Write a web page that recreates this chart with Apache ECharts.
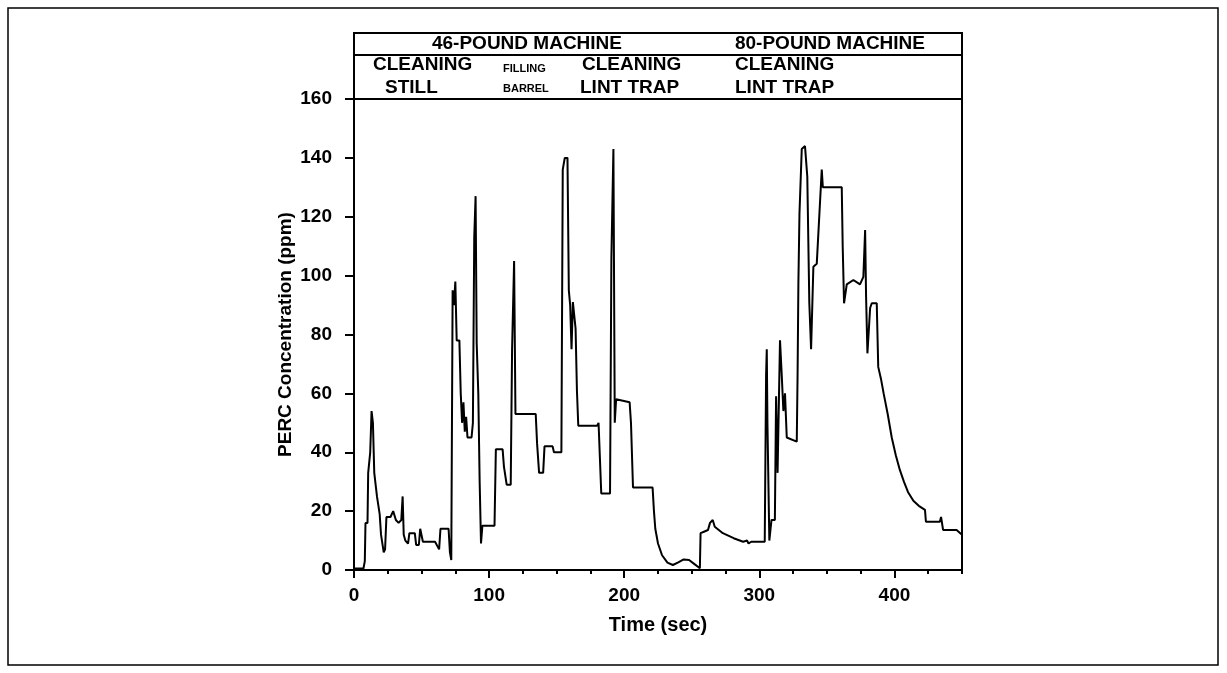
<!DOCTYPE html>
<html lang="en">
<head>
    <meta charset="UTF-8">
    <title>PERC Concentration</title>
    <script src="https://cdn.jsdelivr.net/npm/echarts@6/dist/echarts.min.js"></script>
    <style>
        html, body { margin: 0; padding: 0; background: #fff; }
        #main { width: 1227px; height: 673px; }
    </style>
</head>
<body>
<div id="main"></div>
<script type="text/javascript">
    // time (sec) and PERC concentration (ppm)
    var timeSec = [0, 7, 8, 8.5, 10, 10.5, 12, 13, 14, 15, 17, 19, 20, 22, 23, 24, 27, 29, 30, 31, 33, 35, 36, 36.8, 38, 40, 41, 45, 46, 48, 49, 50, 51, 60, 61, 63, 64, 70, 71, 72,
        73, 74, 75, 76, 78, 79, 80, 81, 82, 83, 84, 87, 88, 89, 90, 90.8, 92, 93, 94, 95, 104, 105, 110, 111, 113, 116, 117, 118.5, 119.5, 134.5,
        135.5, 137, 140, 141, 147, 148, 153.5, 154.5, 156, 158, 159, 160, 161, 162, 164, 165, 166, 180, 181, 182, 183, 189.5, 190.5, 192, 193, 194,
        204, 205, 206.5, 221, 222, 223, 225, 228, 232, 236, 240, 244, 248, 252, 256, 256.5, 259, 262, 263.5, 265.5, 267, 273, 281, 288, 291, 292,
        294, 304, 305, 305.5, 306, 307.4, 309, 311.5, 312.4, 313.5, 314.5, 315.3, 316.5, 317.8, 319, 320.3, 327.7, 328.3, 328.9, 329.7, 331.4, 333.8,
        335.5, 337, 338.3, 340, 342.5, 345, 346.2, 347, 361, 361.7, 362.7, 364.7, 369.6, 374.5, 377, 378.3, 379, 380, 382, 383.2, 386.9, 388, 390,
        392, 395, 398, 401, 404, 407, 410, 414, 418, 422.6, 423.3, 433.6, 434.5, 436, 446, 450];
    var ppm = [0.5, 0.5, 3, 16, 16, 33, 40, 54, 50, 33, 25, 19, 12, 6, 7, 18, 18, 20, 20, 17, 16, 17, 25, 12, 10, 9, 12.5, 12.5, 8.5, 8.5, 14, 14, 9.6, 9.6, 9, 7, 14, 14, 6, 3.4,
        95, 90, 98, 78, 78, 60, 50, 57, 47, 52, 45, 45, 50, 113, 127, 77, 60, 30, 9, 15, 15, 41, 41, 35, 29, 29, 75, 105, 53, 53,
        43, 33, 33, 42, 42, 40, 40, 136, 140, 140, 95, 90, 75, 91, 82, 61, 49, 49, 50, 50, 26, 26, 106, 143, 50, 58,
        57, 50, 28, 28, 20, 14, 9, 5, 2.5, 1.7, 2.6, 3.6, 3.4, 2, 0.6, 12.5, 13, 13.6, 16, 17, 14.7, 12.5, 10.8, 9.6, 10, 9,
        9.6, 9.6, 66, 75, 50, 10, 17, 17, 59, 33, 33, 78, 67, 54, 60, 45, 43.6, 66, 97, 121, 143, 144,
        133.6, 90.6, 75, 103, 104, 125.7, 136, 130, 130, 110, 90.6, 97, 98.5, 97, 99.6, 115.5, 93, 73.6, 89, 90.6, 90.6, 69, 65,
        60, 53, 45, 39, 34, 30, 26.5, 23.5, 21.8, 20.4, 16.4, 16.4, 18, 13.6, 13.6, 12];

    var xTicks = [0, 100, 200, 300, 400];
    var yTicks = [0, 20, 40, 60, 80, 100, 120, 140, 160];

    var series1 = [];
    for (var i = 0; i < timeSec.length; i++) {
        series1.push([timeSec[i], ppm[i]]);
    }

    var fontBold = '"Liberation Sans", Arial, sans-serif';
    var headFont = 'bold 19px ' + fontBold;
    var smallFont = 'bold 11px ' + fontBold;

    // header box texts (the rows above the plot)
    function txt(s, x, y, font, align) {
        return {
            type: 'text', x: x, y: y, z: 10,
            style: { text: s, font: font, fill: '#000', align: align || 'left', verticalAlign: 'middle' }
        };
    }

    var myChart = echarts.init(document.getElementById('main'));
    var option = {
        backgroundColor: '#fff',
        animation: false,
        grid: { left: 354, right: 265, top: 99, bottom: 103 },
        xAxis: [{
            type: 'value',
            min: 0, max: 450, interval: 100,
            name: 'Time (sec)',
            nameLocation: 'middle',
            nameGap: 45,
            nameTextStyle: { fontFamily: fontBold, fontWeight: 'bold', fontSize: 20, color: '#000' },
            axisLine: { show: true, lineStyle: { color: '#000', width: 2 } },
            axisTick: { show: true, length: 8, lineStyle: { color: '#000', width: 2 } },
            axisLabel: {
                margin: 16, showMaxLabel: false, color: '#000',
                fontFamily: fontBold, fontWeight: 'bold', fontSize: 19,
                formatter: function (v) { return xTicks.indexOf(v) >= 0 ? String(v) : ''; }
            },
            splitLine: { show: false }
        }, {
            // short ticks every 25 sec
            type: 'value', position: 'bottom',
            min: 0, max: 450, interval: 25,
            axisLine: { show: false },
            axisTick: { show: true, length: 4, lineStyle: { color: '#000', width: 2 } },
            axisLabel: { show: false },
            splitLine: { show: false }
        }],
        yAxis: {
            type: 'value',
            min: 0, max: 160, interval: 20,
            name: 'PERC Concentration (ppm)',
            nameLocation: 'middle',
            nameGap: 59,
            nameTextStyle: { fontFamily: fontBold, fontWeight: 'bold', fontSize: 19, color: '#000' },
            axisLine: { show: true, lineStyle: { color: '#000', width: 2 } },
            axisTick: { show: true, length: 9, lineStyle: { color: '#000', width: 2 } },
            axisLabel: {
                margin: 22, color: '#000',
                fontFamily: fontBold, fontWeight: 'bold', fontSize: 19,
                formatter: function (v) { return yTicks.indexOf(v) >= 0 ? String(v) : ''; }
            },
            splitLine: { show: false }
        },
        series: [{
            name: 'PERC',
            type: 'line',
            data: series1,
            showSymbol: false,
            symbol: 'none',
            lineStyle: { color: '#000', width: 2 },
            clip: true
        }],
        graphic: [
            { type: 'rect', shape: { x: 8, y: 8, width: 1210, height: 657 }, style: { fill: 'none', stroke: '#000', lineWidth: 1.5 } },
            { type: 'rect', shape: { x: 354, y: 33, width: 608, height: 537 }, style: { fill: 'none', stroke: '#000', lineWidth: 2 } },
            { type: 'line', shape: { x1: 354, y1: 55, x2: 962, y2: 55 }, style: { stroke: '#000', lineWidth: 2 } },
            { type: 'line', shape: { x1: 354, y1: 99, x2: 962, y2: 99 }, style: { stroke: '#000', lineWidth: 2 } },
            txt('46-POUND MACHINE', 527, 44, headFont, 'center'),
            txt('80-POUND MACHINE', 830, 44, headFont, 'center'),
            txt('CLEANING', 373, 65, headFont),
            txt('STILL', 385, 88, headFont),
            txt('FILLING', 503, 69, smallFont),
            txt('BARREL', 503, 89, smallFont),
            txt('CLEANING', 582, 65, headFont),
            txt('LINT TRAP', 580, 88, headFont),
            txt('CLEANING', 735, 65, headFont),
            txt('LINT TRAP', 735, 88, headFont)
        ]
    };
    myChart.setOption(option);
</script>
</body>
</html>
